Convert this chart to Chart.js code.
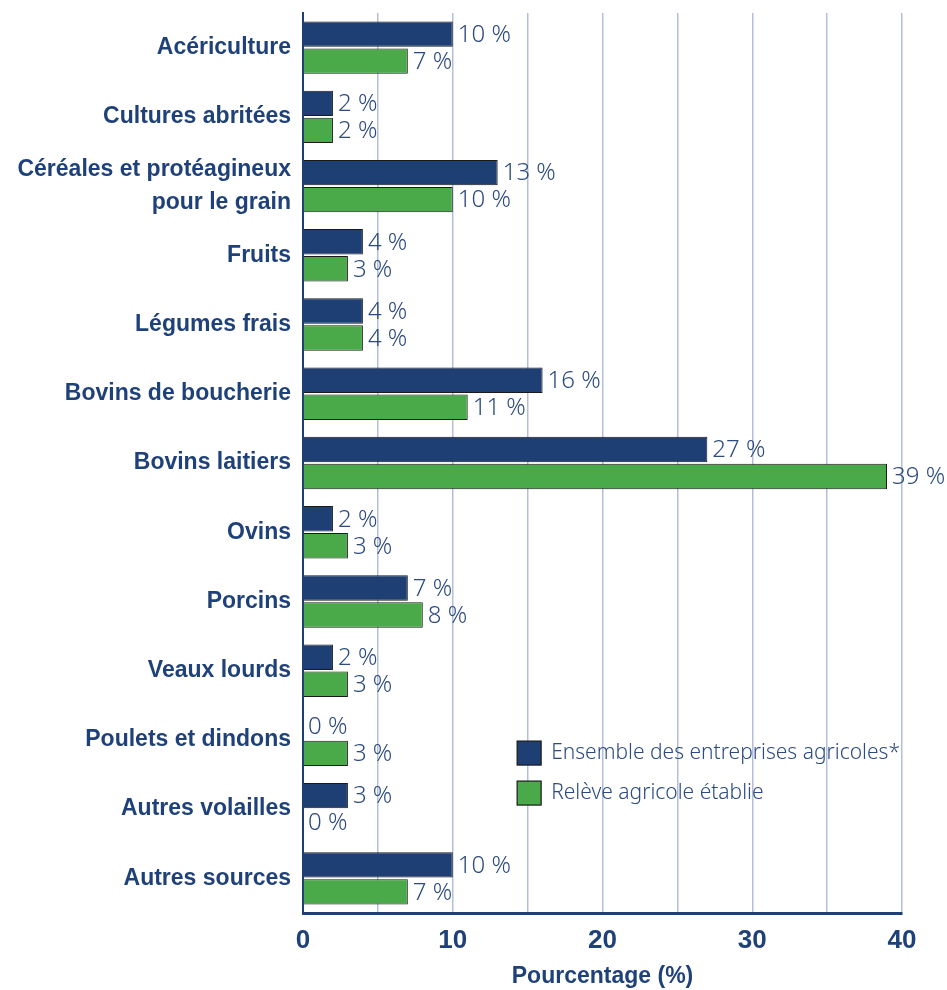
<!DOCTYPE html>
<html>
<head>
<meta charset="utf-8">
<script src="https://cdn.jsdelivr.net/npm/chart.js@4"></script>
<style>
  html, body { margin: 0; padding: 0; background: #ffffff; }
  #wrap { width: 947px; height: 990px; }
</style>
</head>
<body>
<div id="wrap"><canvas id="myChart" width="947" height="990"></canvas></div>
<script>
const categories = [
    'Acériculture',
    'Cultures abritées',
    ['Céréales et protéagineux', 'pour le grain'],
    'Fruits',
    'Légumes frais',
    'Bovins de boucherie',
    'Bovins laitiers',
    'Ovins',
    'Porcins',
    'Veaux lourds',
    'Poulets et dindons',
    'Autres volailles',
    'Autres sources'
];
const ensembleValues = [10, 2, 13, 4, 4, 16, 27, 2, 7, 2, 0, 3, 10];
const releveValues = [7, 2, 10, 3, 4, 11, 39, 3, 8, 3, 3, 0, 7];
const seriesNames = ['Ensemble des entreprises agricoles*', 'Relève agricole établie'];
const xTicks = [0, 10, 20, 30, 40];

const navy = '#1e3f73';
const green = '#4aa948';
const textBlue = '#1f4179';

// draws "nn %" just past the end of each bar
const valueLabels = {
    id: 'valueLabels',
    afterDatasetsDraw(chart)
    {
        const ctx = chart.ctx;
        ctx.save();
        ctx.font = '300 24px "Noto Sans", sans-serif';
        ctx.fillStyle = '#2b4a80';
        ctx.textBaseline = 'middle';
        ctx.textAlign = 'left';
        chart.data.datasets.forEach((ds, i) =>
        {
            chart.getDatasetMeta(i).data.forEach((bar, j) =>
            {
                ctx.fillText(ds.data[j] + ' %', bar.x + 5, bar.y + 1);
            });
        });
        ctx.restore();
    }
};

// legend boxes sitting inside the plot
const innerLegend = {
    id: 'innerLegend',
    afterDraw(chart)
    {
        const ctx = chart.ctx;
        const x = chart.scales.x.getPixelForValue(14.3);
        const y0 = chart.scales.y.getPixelForValue(10.19);
        ctx.save();
        ctx.font = '300 21px "Noto Sans", sans-serif';
        ctx.textBaseline = 'middle';
        chart.data.datasets.forEach((ds, i) =>
        {
            const y = y0 + i * 40;
            ctx.fillStyle = ds.backgroundColor;
            ctx.fillRect(x, y - 12, 24, 24);
            ctx.strokeStyle = '#1a1a1a';
            ctx.lineWidth = 1.2;
            ctx.strokeRect(x, y - 12, 24, 24);
            ctx.fillStyle = '#2b4a80';
            ctx.fillText(ds.label, x + 34, y);
        });
        ctx.restore();
    }
};

new Chart(document.getElementById('myChart').getContext('2d'), {
    type: 'bar',
    data: {
        labels: categories,
        datasets: [
            {
                label: seriesNames[0],
                data: ensembleValues,
                backgroundColor: navy,
                borderColor: '#1a1a1a',
                borderWidth: 1,
                categoryPercentage: 0.78,
                barPercentage: 0.94
            },
            {
                label: seriesNames[1],
                data: releveValues,
                backgroundColor: green,
                borderColor: '#1a1a1a',
                borderWidth: 1,
                categoryPercentage: 0.78,
                barPercentage: 0.94
            }
        ]
    },
    options: {
        indexAxis: 'y',
        responsive: false,
        animation: false,
        layout: {
            padding: { top: 13, right: 45, left: 0, bottom: 0 }
        },
        plugins: {
            legend: { display: false },
            tooltip: { enabled: false }
        },
        scales: {
            x: {
                min: 0,
                max: 40,
                afterBuildTicks: (axis) =>
                {
                    axis.ticks = [];
                    for (let v = 0; v <= 40; v += 5) axis.ticks.push({ value: v });
                },
                afterFit: (axis) => { axis.height = 77; },
                grid: {
                    color: '#b3bfda',
                    lineWidth: 1.5,
                    drawTicks: false
                },
                border: { color: navy, width: 3 },
                ticks: {
                    padding: 12,
                    autoSkip: false,
                    maxRotation: 0,
                    color: textBlue,
                    font: { family: '"Liberation Sans", sans-serif', size: 26, weight: 'bold' },
                    callback: (value) => xTicks.includes(value) ? value : ''
                },
                title: {
                    display: true,
                    text: 'Pourcentage (%)',
                    color: textBlue,
                    padding: { top: 4, bottom: 0 },
                    font: { family: '"Liberation Sans", sans-serif', size: 23, weight: 'bold' }
                }
            },
            y: {
                grid: { display: false, drawTicks: false },
                border: { color: navy, width: 2 },
                afterFit: (axis) =>
                {
                    axis.width = 303;
                    axis.paddingTop = 0;
                    axis.paddingBottom = 0;
                },
                ticks: {
                    padding: 12,
                    autoSkip: false,
                    color: textBlue,
                    font: { family: '"Liberation Sans", sans-serif', size: 23, weight: 'bold', lineHeight: 1.4 }
                }
            }
        }
    },
    plugins: [valueLabels, innerLegend]
});
</script>
</body>
</html>
